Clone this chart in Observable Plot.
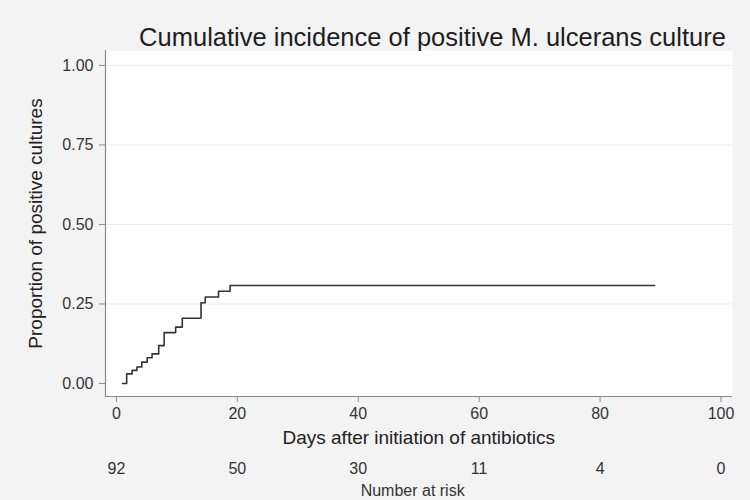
<!DOCTYPE html>
<html>
<head>
<meta charset="utf-8">
<script src="https://cdn.jsdelivr.net/npm/d3@7"></script>
<script src="https://cdn.jsdelivr.net/npm/@observablehq/plot@0.6"></script>
<style>
  html, body { margin: 0; padding: 0; background: #f3f3f3; }
  body { width: 750px; height: 500px; position: relative; overflow: hidden; font-family: "Liberation Sans", Arial, sans-serif; }
  #title { position: absolute; top: 21px; left: 0; width: 865px; text-align: center; font-size: 25.5px; line-height: 32px; color: #1e1e1e; white-space: nowrap; }
  #chart { position: absolute; top: 0; left: 0; }
</style>
</head>
<body>
<div id="chart"></div>
<div id="title">Cumulative incidence of positive M. ulcerans culture</div>
<script>
// Step curve (days, cumulative proportion)
const stepDays  = [1, 1.7, 2.6, 3.4, 4.2, 5.1, 5.9, 7.0, 7.9, 9.8, 10.9, 14.0, 14.7, 16.9, 18.8, 89];
const stepProps = [0, 0.030, 0.041, 0.052, 0.067, 0.081, 0.093, 0.119, 0.160, 0.177, 0.205, 0.254, 0.272, 0.290, 0.308, 0.308];

// Axis ticks
const xTicks = [0, 20, 40, 60, 80, 100];
const yTicks = [0, 0.25, 0.5, 0.75, 1];
const gridTicks = [0.25, 0.5, 0.75, 1];

// Number at risk
const riskDays = [0, 20, 40, 60, 80, 100];
const riskCounts = [92, 50, 30, 11, 4, 0];

const curve = stepDays.map((d, i) => ({day: d, p: stepProps[i]}));
const risk = riskDays.map((d, i) => ({day: d, n: riskCounts[i]}));

const xDomain = [-1.8, 101.9];
const yDomain = [-0.041, 1.047];

const chart = Plot.plot({
  width: 750,
  height: 500,
  marginLeft: 105,
  marginRight: 18,
  marginTop: 50,
  marginBottom: 104,
  style: {background: "transparent", fontFamily: "'Liberation Sans', Arial, sans-serif", color: "#333"},
  x: {domain: xDomain, axis: null},
  y: {domain: yDomain, axis: null},
  marks: [
    Plot.frame({fill: "white", stroke: null}),
    Plot.gridY(gridTicks, {stroke: "#ececec", strokeOpacity: 1}),
    Plot.ruleX([xDomain[0]], {stroke: "#8a8a8a", strokeWidth: 1.2}),
    Plot.ruleY([yDomain[0]], {stroke: "#8a8a8a", strokeWidth: 1.2}),
    Plot.axisY(yTicks, {
      tickFormat: d3.format(".2f"), tickSize: 6, tickPadding: 6, fontSize: 16,
      stroke: "#8a8a8a", fill: "#333", label: null, anchor: "left"
    }),
    Plot.axisX(xTicks, {
      tickSize: 6, tickPadding: 5, fontSize: 16, stroke: "#8a8a8a", fill: "#333",
      label: null, anchor: "bottom"
    }),
    Plot.line(curve, {x: "day", y: "p", curve: "step-after", stroke: "#333", strokeWidth: 1.6}),
    Plot.text(["Days after initiation of antibiotics"], {x: 50, frameAnchor: "bottom", lineAnchor: "middle", dy: 41, fontSize: 19, fill: "#222"}),
    Plot.text(["Proportion of positive cultures"], {frameAnchor: "left", textAnchor: "middle", lineAnchor: "middle", dx: -70, rotate: -90, fontSize: 19, fill: "#222"}),
    Plot.text(risk, {x: "day", text: "n", frameAnchor: "bottom", lineAnchor: "middle", dy: 72, fontSize: 16, fill: "#333"}),
    Plot.text(["Number at risk"], {x: 49, frameAnchor: "bottom", lineAnchor: "middle", dy: 94, fontSize: 16, fill: "#333"})
  ]
});
document.getElementById("chart").appendChild(chart);
</script>
</body>
</html>
